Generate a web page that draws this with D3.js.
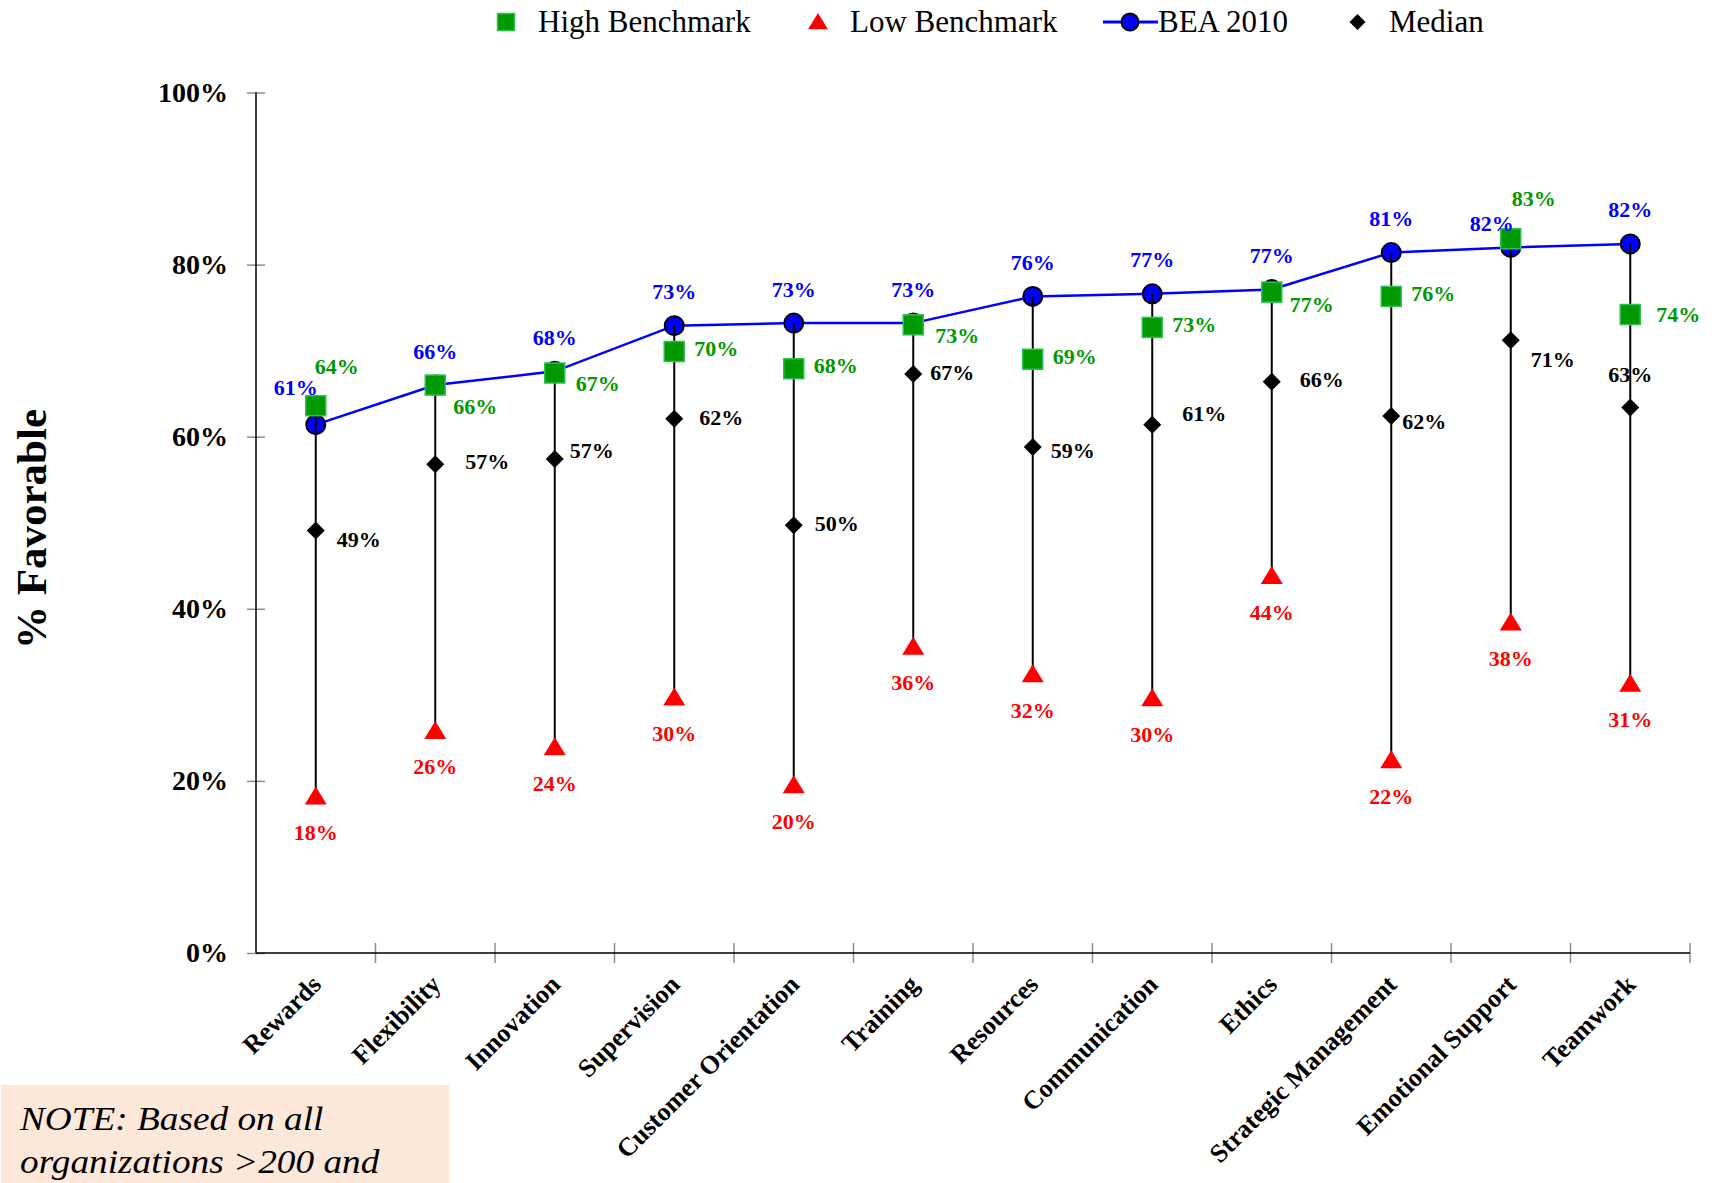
<!DOCTYPE html>
<html>
<head>
<meta charset="utf-8">
<script src="https://cdn.jsdelivr.net/npm/d3@7"></script>
<style>
  body { margin: 0; background: #fff; }
  svg { display: block; font-family: 'Liberation Serif', 'Times New Roman', serif; }
</style>
</head>
<body>
<svg id="chart" width="1718" height="1183"></svg>
<script>
const categories = [
  'Rewards', 'Flexibility', 'Innovation', 'Supervision', 'Customer Orientation',
  'Training', 'Resources', 'Communication', 'Ethics', 'Strategic Management',
  'Emotional Support', 'Teamwork',
];
const bea2010 = [61.4, 66.0, 67.6, 72.9, 73.2, 73.2, 76.3, 76.6, 77.1, 81.4, 82.0, 82.4];
const highBenchmark = [63.6, 66.0, 67.4, 69.9, 67.9, 73.0, 69.0, 72.7, 76.8, 76.3, 83.0, 74.2];
const median = [49.1, 56.8, 57.4, 62.1, 49.7, 67.3, 58.8, 61.4, 66.4, 62.4, 71.2, 63.4];
const lowBenchmark = [18.2, 25.8, 23.9, 29.7, 19.5, 35.6, 32.4, 29.6, 43.8, 22.4, 38.4, 31.3];
const yTicks = [0, 20, 40, 60, 80, 100];
const noteLines = ['NOTE: Based on all', 'organizations >200 and'];

// label placement (Excel-style manual nudges), px from marker centre
const labelNudge = {
  bea: { def: [0, -34], 0: [-20, -37], 10: [-19, -24] },
  high: { def: [42, -3], 0: [21, -39], 1: [40, 21], 2: [43, 10], 5: [44, 11], 8: [40, 12], 10: [23, -40], 11: [48, 0] },
  median: { def: [43, -2], 0: [43, 9], 1: [52, -3], 2: [37, -9], 3: [47, -1], 5: [39, -1], 6: [40, 3], 7: [52, -11], 8: [50, -2], 9: [33, 5], 10: [42, 19], 11: [0, -33] },
  low: { def: [0, 36] },
};

const BLUE = '#0000ff', GREEN = '#009900', GREEN_EDGE = '#2fbf55', RED = '#ff0000';

const svg = d3.select('#chart');
const margin = { top: 92.5, left: 256, right: 28, bottom: 230 };
const width = 1718, height = 1183;

const x = d3.scaleBand().domain(categories).range([margin.left, width - margin.right]).padding(0);
const y = d3.scaleLinear().domain([0, 100]).range([height - margin.bottom, margin.top]);
const cx = (i) => x(categories[i]) + x.bandwidth() / 2;

// axes
const yAxis = svg.append('g')
  .attr('transform', `translate(${margin.left},0)`)
  .call(d3.axisLeft(y).tickValues(yTicks).tickSize(9).tickPadding(19).tickFormat((d) => d + '%'));
yAxis.select('.domain').remove();
yAxis.selectAll('.tick line').attr('x1', 9).attr('x2', -9).attr('stroke', '#8c8c8c').attr('stroke-width', 1.5);
yAxis.selectAll('.tick text')
  .attr('font-family', 'Liberation Serif').attr('font-weight', 'bold').attr('font-size', 28).attr('fill', '#000');
svg.append('line')
  .attr('x1', margin.left).attr('x2', margin.left)
  .attr('y1', y(100)).attr('y2', y(0))
  .attr('stroke', '#000').attr('stroke-width', 1.5);

const xAxis = svg.append('g')
  .attr('transform', `translate(0,${y(0)})`)
  .call(d3.axisBottom(x).tickSize(0).tickFormat(''));
xAxis.select('.domain').remove();
const bounds = categories.map((c) => x(c)).concat([width - margin.right]);
xAxis.selectAll('.xt').data(bounds.slice(1)).join('line')
  .attr('x1', (d) => d).attr('x2', (d) => d).attr('y1', -10).attr('y2', 10)
  .attr('stroke', '#8c8c8c').attr('stroke-width', 1.5);
xAxis.append('line')
  .attr('x1', margin.left).attr('x2', width - margin.right)
  .attr('stroke', '#000').attr('stroke-width', 1.5);

svg.append('g').selectAll('text').data(categories).join('text')
  .attr('transform', (d, i) => `translate(${cx(i) + 7},${y(0) + 33}) rotate(-45)`)
  .attr('text-anchor', 'end')
  .attr('font-weight', 'bold').attr('font-size', 26)
  .text((d) => d);

svg.append('text')
  .attr('transform', `translate(31,${529}) rotate(-90)`)
  .attr('text-anchor', 'middle').attr('dominant-baseline', 'central')
  .attr('font-weight', 'bold').attr('font-size', 43)
  .text('% Favorable');

// high-low lines span every series at each category
const all = [bea2010, highBenchmark, median, lowBenchmark];
const spans = categories.map((c, i) => d3.extent(all, (s) => s[i]));

const blueLine = d3.line().x((d, i) => cx(i)).y((d) => y(d));
svg.append('path').datum(bea2010)
  .attr('d', blueLine).attr('fill', 'none').attr('stroke', BLUE).attr('stroke-width', 2.5);
svg.append('g').selectAll('circle').data(bea2010).join('circle')
  .attr('cx', (d, i) => cx(i)).attr('cy', (d) => y(d)).attr('r', 9.5)
  .attr('fill', BLUE).attr('stroke', '#000').attr('stroke-width', 2);

svg.append('g').selectAll('line').data(spans).join('line')
  .attr('x1', (d, i) => cx(i)).attr('x2', (d, i) => cx(i))
  .attr('y1', (d) => y(d[0])).attr('y2', (d) => y(d[1]))
  .attr('stroke', '#000').attr('stroke-width', 2);

svg.append('g').selectAll('rect').data(highBenchmark).join('rect')
  .attr('x', (d, i) => cx(i) - 10).attr('y', (d) => y(d) - 10)
  .attr('width', 20).attr('height', 20)
  .attr('fill', GREEN).attr('stroke', GREEN_EDGE).attr('stroke-width', 1.5);

const diamond = (s) => `M0,${-s}L${s},0L0,${s}L${-s},0Z`;
const triangle = (s) => `M0,${-s}L${s * 1.1},${s * 0.8}L${-s * 1.1},${s * 0.8}Z`;

svg.append('g').selectAll('path').data(median).join('path')
  .attr('transform', (d, i) => `translate(${cx(i)},${y(d)})`)
  .attr('d', diamond(9)).attr('fill', '#000');

svg.append('g').selectAll('path').data(lowBenchmark).join('path')
  .attr('transform', (d, i) => `translate(${cx(i)},${y(d)})`)
  .attr('d', triangle(10)).attr('fill', RED);

// data labels
const labelSets = [
  { key: 'median', values: median, color: '#000' },
  { key: 'low', values: lowBenchmark, color: RED },
  { key: 'high', values: highBenchmark, color: GREEN },
  { key: 'bea', values: bea2010, color: BLUE },
];
labelSets.forEach((s) => {
  const nudge = (i) => labelNudge[s.key][i] || labelNudge[s.key].def;
  svg.append('g').selectAll('text').data(s.values).join('text')
    .attr('x', (d, i) => cx(i) + nudge(i)[0])
    .attr('y', (d, i) => y(d) + nudge(i)[1])
    .attr('text-anchor', 'middle').attr('dominant-baseline', 'central')
    .attr('font-weight', 'bold').attr('font-size', 22)
    .attr('fill', s.color)
    .text((d) => Math.round(d) + '%');
});

// legend
const legend = svg.append('g').attr('font-size', 31);
const ly = 22;
legend.append('rect').attr('x', 497.5).attr('y', ly - 8.5).attr('width', 17).attr('height', 17)
  .attr('fill', GREEN).attr('stroke', GREEN_EDGE).attr('stroke-width', 1.5);
legend.append('text').attr('x', 538).attr('y', 32).text('High Benchmark');
legend.append('path').attr('transform', `translate(818,${ly})`).attr('d', triangle(9)).attr('fill', RED);
legend.append('text').attr('x', 850).attr('y', 32).text('Low Benchmark');
legend.append('line').attr('x1', 1103).attr('x2', 1158).attr('y1', ly).attr('y2', ly)
  .attr('stroke', BLUE).attr('stroke-width', 3);
legend.append('circle').attr('cx', 1130).attr('cy', ly).attr('r', 8.5)
  .attr('fill', BLUE).attr('stroke', '#000').attr('stroke-width', 2);
legend.append('text').attr('x', 1158).attr('y', 32).text('BEA 2010');
legend.append('path').attr('transform', `translate(1357.5,${ly})`).attr('d', diamond(8)).attr('fill', '#000');
legend.append('text').attr('x', 1389).attr('y', 32).text('Median');

// note box
const note = svg.append('g');
note.append('rect').attr('x', 1).attr('y', 1085).attr('width', 448).attr('height', 100).attr('fill', '#fde8d9');
note.selectAll('text').data(noteLines).join('text')
  .attr('transform', (d, i) => `translate(20,${1130 + i * 43}) scale(1.13,1)`)
  .attr('font-style', 'italic').attr('font-size', 33)
  .text((d) => d);
</script>
</body>
</html>
